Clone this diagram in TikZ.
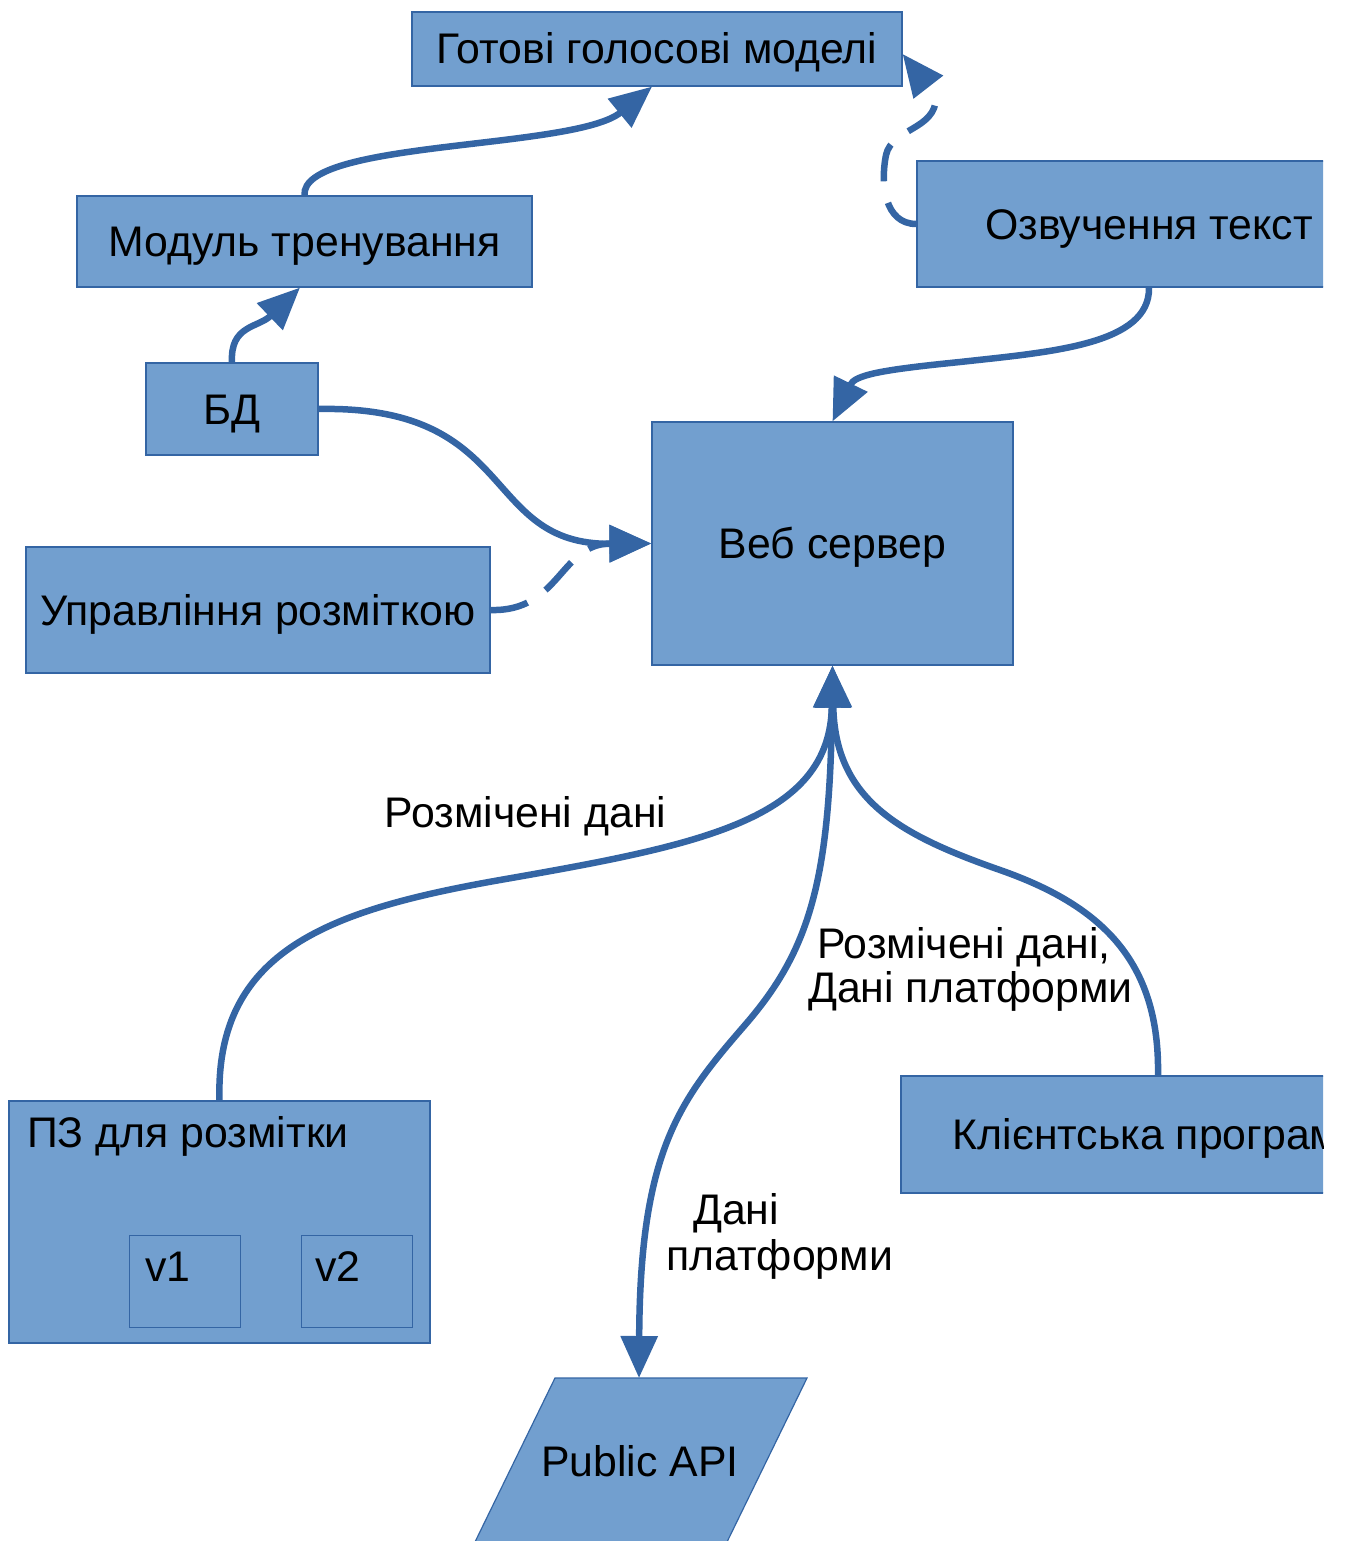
\documentclass[tikz,border=0pt]{standalone}
\usepackage{fontspec}
\setmainfont{Liberation Sans}
\usetikzlibrary{arrows.meta}

\definecolor{boxfill}{HTML}{729FCF}
\definecolor{boxline}{HTML}{3465A4}
\definecolor{wire}{HTML}{3465A4}

\begin{document}
\begin{tikzpicture}[x=1pt, y=-1pt,
  txt/.style={font=\fontsize{42.8}{46}\selectfont, text height=30pt, text depth=0pt},
  box/.style={txt, draw=boxline, line width=1.2pt, fill=boxfill, inner sep=0pt},
  lbl/.style={txt, inner sep=0pt},
  conn/.style={draw=wire, line width=6.5pt, -{Triangle[length=42pt, width=36pt]}},
  biconn/.style={draw=wire, line width=6.5pt, {Triangle[length=42pt, width=36pt]}-{Triangle[length=42pt, width=36pt]}},
  dashconn/.style={conn, dash pattern=on 38pt off 22pt}]

\useasboundingbox (0,0) rectangle (1344,1541);

\begin{scope}
\clip (0,0) rectangle (1323,1541);

% boxes
\node[box, minimum width=490pt, minimum height=74pt]  (models) at (657,49)      {Готові голосові моделі};
\node[box, minimum width=455pt, minimum height=91pt]  (train)  at (304.5,241.5) {Модуль тренування};
\node[box, minimum width=172pt, minimum height=92pt]  (db)     at (232,409)     {БД};
\node[box, minimum width=464pt, minimum height=126pt] (markup) at (258,610)     {Управління розміткою};
\node[box, minimum width=361pt, minimum height=243pt] (web)    at (832.5,543.5) {Веб сервер};
\node[box, minimum width=464pt, minimum height=126pt] (tts)    at (1149,224)    {Озвучення текст};
\node[box, minimum width=514pt, minimum height=117pt] (client) at (1158,1134.5) {Клієнтська програма};

% annotation tool with its two versions
\node[box, minimum width=421pt, minimum height=242pt] (tool) at (219.5,1222) {};
\node[lbl, anchor=base west] (tooltitle) at (27,1147) {ПЗ для розмітки};
\node[box, line width=0.8pt, minimum width=111pt, minimum height=92pt] (v1) at (184.5,1281) {};
\node[box, line width=0.8pt, minimum width=111pt, minimum height=92pt] (v2) at (356.5,1281) {};
\node[lbl, anchor=base west] (v1text) at (145,1281) {v1};
\node[lbl, anchor=base west] (v2text) at (315,1281) {v2};

% public API (parallelogram)
\path[draw=boxline, line width=1.2pt, fill=boxfill]
  (555,1378) -- (807,1378) -- (726,1544) -- (474,1544) -- cycle;
\node[lbl] (api) at (640,1461) {Public API};
\coordinate (apitop) at (639,1378);

% connectors
\draw[conn] (train.north) .. controls (300,140) and (575,150) .. ([xshift=-5pt]models.south);
\draw[conn] (db.north) .. controls (230,325) and (258,328) .. ([xshift=-4.5pt]train.south);
\draw[conn] (db.east) .. controls (520,405) and (480,545) .. (web.west);
\draw[dashconn] (markup.east) .. controls (560,612) and (560,543.5) .. (web.west);
\draw[dashconn] (tts.west) .. controls (885,224) and (880,185) .. (886,155)
  .. controls (892,128) and (936,130) .. (936,97) -- ([yshift=-5pt]models.east);
\draw[conn] (tts.south) .. controls (1150,345) and (1050,352) .. (960,362)
  .. controls (880,370) and (855,375) .. (web.north);
\draw[conn] (tool.north) .. controls (215,950) and (330,910) .. (500,880)
  .. controls (700,845) and (830,820) .. (web.south);
\draw[biconn] (web.south) .. controls (830,880) and (810,950) .. (745,1025)
  .. controls (680,1100) and (640,1150) .. (apitop);
\draw[conn] (client.north) .. controls (1160,960) and (1100,905) .. (1000,870)
  .. controls (900,835) and (835,800) .. (web.south);

% connector labels
\node[lbl, anchor=base] (lblmarked) at (525.5,827) {Розмічені дані};
\node[lbl, anchor=base] (lblboth1) at (964,958) {Розмічені дані,};
\node[lbl, anchor=base] (lblboth2) at (970.5,1002) {Дані платформи};
\node[lbl, anchor=base west] (lblplat1) at (693,1224) {Дані};
\node[lbl, anchor=base west] (lblplat2) at (666,1270) {платформи};
\end{scope}
\end{tikzpicture}
\end{document}
